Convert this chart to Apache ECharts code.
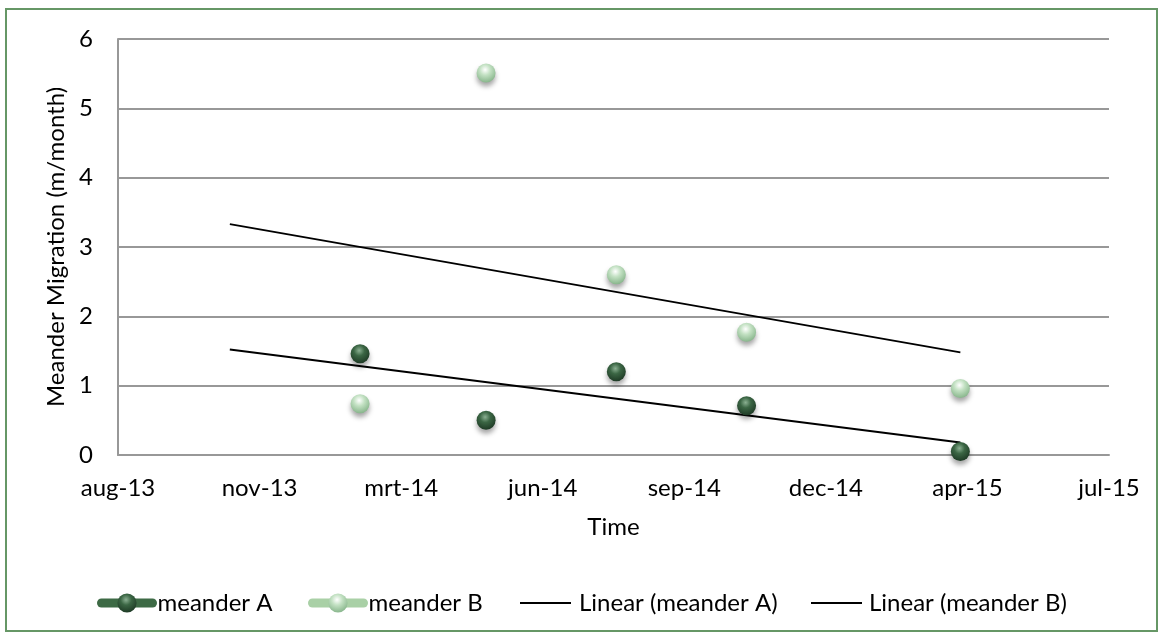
<!DOCTYPE html>
<html>
<head>
<meta charset="utf-8">
<script src="https://cdn.jsdelivr.net/npm/echarts@6/dist/echarts.min.js"></script>
<style>
  html, body { margin: 0; padding: 0; background: #fff; }
  #chart { width: 1163px; height: 637px; }
</style>
</head>
<body>
<div id="chart"></div>
<script>
// meetdata (datum van meting, migratie in m/maand)
const dates = ['2014-02-01', '2014-05-01', '2014-08-01', '2014-11-01', '2015-04-01']
const meanderA = [1.46, 0.50, 1.20, 0.71, 0.05]
const meanderB = [0.74, 5.51, 2.60, 1.77, 0.96]

// trendlijnen (begin- en eindpunt)
const trendDates = ['2013-11-01', '2015-04-01']
const trendA = [1.52, 0.18]
const trendB = [3.33, 1.48]

const monthNames = ['jan', 'feb', 'mrt', 'apr', 'mei', 'jun', 'jul', 'aug', 'sep', 'okt', 'nov', 'dec']
const xMin = 41500, xMax = 42200, xStep = 100   // excel datum-serienummers

const FONT = 'Lato'
const FS = 24

function toSerial(s) {
  return Date.parse(s) / 86400000 + 25569
}
function serialLabel(v) {
  let d = new Date((v - 25569) * 86400000)
  return monthNames[d.getUTCMonth()] + '-' + String(d.getUTCFullYear()).slice(2)
}
function pairs(xs, ys) {
  return xs.map((x, i) => [toSerial(x), ys[i]])
}
function sphere(c0, c1, c2) {
  return {
    type: 'radial', x: 0.45, y: 0.33, r: 0.7,
    colorStops: [{ offset: 0, color: c0 }, { offset: 0.4, color: c1 }, { offset: 1, color: c2 }]
  }
}

let chart = echarts.init(document.getElementById('chart'))

const darkSphere = sphere('#8bb092', '#3b6644', '#1c3723')
const lightSphere = sphere('#ffffff', '#c3e1c3', '#84b388')

function legendAt(left, item) {
  return {
    left: left, top: 586,
    itemWidth: 51, itemHeight: 24,
    selectedMode: false,
    textStyle: { fontFamily: FONT, fontSize: FS, color: '#000' },
    data: [item]
  }
}

let option = {
  animation: false,
  graphic: [{
    type: 'rect',
    shape: { x: 6, y: 9, width: 1151, height: 622 },
    style: { fill: 'none', stroke: '#669766', lineWidth: 2 }
  }],
  grid: { left: 118, right: 54, top: 39, bottom: 182 },
  legend: [
    legendAt(92, { name: 'meander A', lineStyle: { width: 9, color: '#3d6a45', opacity: 1, cap: 'round' } }),
    legendAt(303, { name: 'meander B', lineStyle: { width: 9, color: '#a9d0a6', opacity: 1, cap: 'round' } }),
    legendAt(514, { name: 'Linear (meander A)', itemStyle: { color: 'rgba(0,0,0,0)', borderWidth: 0 }, lineStyle: { width: 2, color: '#000' }, textStyle: { padding: [0, 0, 0, 3] } }),
    legendAt(805, { name: 'Linear (meander B)', itemStyle: { color: 'rgba(0,0,0,0)', borderWidth: 0 }, lineStyle: { width: 2, color: '#000' }, textStyle: { padding: [0, 0, 0, 2] } })
  ],
  xAxis: {
    type: 'value',
    min: xMin, max: xMax, interval: xStep,
    name: 'Time',
    nameLocation: 'middle',
    nameGap: 60,
    nameTextStyle: { fontFamily: FONT, fontSize: FS, color: '#000' },
    axisLine: { show: true, lineStyle: { color: '#989898', width: 2 } },
    axisTick: { show: false },
    splitLine: { show: false },
    axisLabel: { fontFamily: FONT, fontSize: FS, color: '#000', margin: 21, formatter: serialLabel }
  },
  yAxis: {
    type: 'value',
    min: 0, max: 6, interval: 1,
    name: 'Meander Migration (m/month)',
    nameLocation: 'middle',
    nameGap: 48,
    nameTextStyle: { fontFamily: FONT, fontSize: FS, color: '#000' },
    axisLine: { show: true, lineStyle: { color: '#989898', width: 2 } },
    axisTick: { show: false },
    splitLine: { show: true, lineStyle: { color: '#989898', width: 2 } },
    axisLabel: { fontFamily: FONT, fontSize: FS, color: '#000', margin: 25 }
  },
  series: [
    {
      name: 'Linear (meander A)', type: 'line', symbol: 'none',
      data: pairs(trendDates, trendA),
      itemStyle: { color: '#000' },
      lineStyle: { color: '#000', width: 2 }
    },
    {
      name: 'Linear (meander B)', type: 'line', symbol: 'none',
      data: pairs(trendDates, trendB),
      itemStyle: { color: '#000' },
      lineStyle: { color: '#000', width: 2 }
    },
    {
      name: 'meander A', type: 'line', symbol: 'circle', symbolSize: 19, showSymbol: true,
      data: pairs(dates, meanderA),
      lineStyle: { width: 0, opacity: 0 },
      itemStyle: { color: darkSphere, shadowColor: 'rgba(0,0,0,0.35)', shadowBlur: 5, shadowOffsetY: 4 },
      emphasis: { disabled: true }
    },
    {
      name: 'meander B', type: 'line', symbol: 'circle', symbolSize: 19, showSymbol: true,
      data: pairs(dates, meanderB),
      lineStyle: { width: 0, opacity: 0 },
      itemStyle: { color: lightSphere, shadowColor: 'rgba(0,0,0,0.35)', shadowBlur: 5, shadowOffsetY: 4 },
      emphasis: { disabled: true }
    }
  ]
}

chart.setOption(option)
</script>
</body>
</html>
